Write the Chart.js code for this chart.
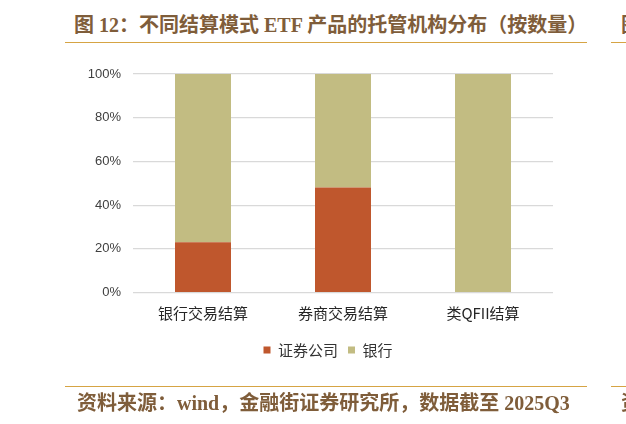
<!DOCTYPE html>
<html>
<head>
<meta charset="utf-8">
<script src="https://cdn.jsdelivr.net/npm/chart.js@4.4.1/dist/chart.umd.min.js"></script>
<style>
    body { margin: 0; background: #ffffff; width: 626px; height: 424px; overflow: hidden; position: relative; }
    .titulo, .fuente {
        position: absolute;
        font-family: "Liberation Serif", "Noto Sans CJK SC", serif;
        font-weight: bold;
        font-size: 20px;
        color: #7f5d3a;
        white-space: nowrap;
        line-height: 24px;
    }
    .titulo { left: 74px; top: 13px; }
    .fuente { left: 77px; top: 391px; }
    .linea { position: absolute; height: 1.5px; background: #d6a444; }
    #grafico { position: absolute; left: 0; top: 0; }
</style>
</head>
<body>
<div class="titulo">图 12：不同结算模式 ETF 产品的托管机构分布（按数量）</div>
<div class="titulo" style="left: 621px;">图</div>
<div class="linea" style="left: 65px; width: 522px; top: 41.5px;"></div>
<div class="linea" style="left: 611px; width: 15px; top: 41.5px;"></div>

<canvas id="grafico" width="626" height="424"></canvas>

<div class="linea" style="left: 65px; width: 522px; top: 385.5px;"></div>
<div class="linea" style="left: 611px; width: 15px; top: 385.5px;"></div>
<div class="fuente">资料来源：wind，金融街证券研究所，数据截至 2025Q3</div>
<div class="fuente" style="left: 621px;">资</div>

<script>
// Categorías (modos de liquidación)
const categorias = ['银行交易结算', '券商交易结算', '类QFII结算'];

// Porcentaje de custodios por tipo
const valoresBroker = [23, 48, 0];   // 证券公司
const valoresBanco = [77, 52, 100];  // 银行

// Etiquetas del eje Y
const ticksY = [0, 20, 40, 60, 80, 100];

const ctx = document.getElementById('grafico').getContext('2d');

// Desplazar un poco la leyenda a la derecha, como en el original
const moverLeyenda = {
    id: 'moverLeyenda',
    afterLayout: function (chart) {
        chart.legend.left += 10;
        chart.legend.right += 10;
    }
};

const data = {
    labels: categorias,
    datasets: [
        {
            label: '证券公司',
            data: valoresBroker,
            backgroundColor: '#bf572d',
            barPercentage: 0.4,
            categoryPercentage: 1.0
        },
        {
            label: '银行',
            data: valoresBanco,
            backgroundColor: '#c2bc82',
            barPercentage: 0.4,
            categoryPercentage: 1.0
        }
    ]
};

const config = {
    type: 'bar',
    data: data,
    plugins: [moverLeyenda],
    options: {
        responsive: false,
        animation: false,
        layout: {
            padding: { left: 83, right: 73, top: 74, bottom: 56.5 }
        },
        plugins: {
            legend: {
                position: 'bottom',
                labels: {
                    boxWidth: 7,
                    boxHeight: 7,
                    padding: 10,
                    color: '#333333',
                    font: { family: '"Noto Sans CJK SC"', size: 15 }
                }
            },
            tooltip: { enabled: false }
        },
        scales: {
            x: {
                stacked: true,
                grid: { display: false },
                border: { display: false },
                ticks: {
                    color: '#262626',
                    padding: 4,
                    font: { family: '"Noto Sans CJK SC"', size: 15 }
                },
                afterFit: function (scale) { scale.height = 40; }
            },
            y: {
                stacked: true,
                min: ticksY[0],
                max: ticksY[ticksY.length - 1],
                grid: {
                    color: '#d9d9d9',
                    lineWidth: 1.2,
                    drawTicks: false
                },
                border: { display: false },
                ticks: {
                    stepSize: ticksY[1] - ticksY[0],
                    color: '#404040',
                    padding: 12,
                    font: { family: '"Liberation Sans", Arial', size: 13 },
                    callback: function (v) { return v + '%'; }
                },
                afterFit: function (scale) { scale.width = 50; }
            }
        }
    }
};

// Crear la gráfica
const graficoCustodios = new Chart(ctx, config);
</script>
</body>
</html>
